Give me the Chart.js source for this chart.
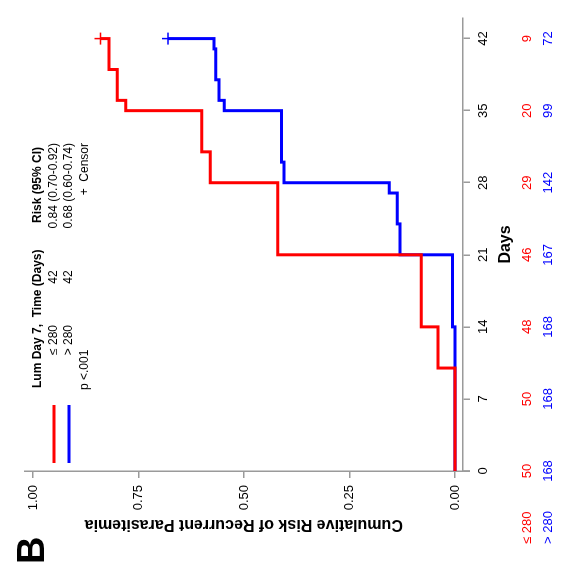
<!DOCTYPE html>
<html>
<head>
<meta charset="utf-8">
<script src="https://cdn.jsdelivr.net/npm/chart.js@4/dist/chart.umd.min.js"></script>
<style>
  html, body { margin: 0; padding: 0; background: #fff; overflow: hidden; }
  /* the plot is drawn landscape and turned on its side */
  #wrap {
    position: absolute; left: 0; top: 0;
    width: 571px; height: 565px;
    transform-origin: 0 0;
    transform: translateY(571px) rotate(-90deg);
  }
</style>
</head>
<body>
<div id="wrap"><canvas id="kmChart" width="571" height="565"></canvas></div>
<script>
// follow-up days and number at risk
const dayTicks = [0, 7, 14, 21, 28, 35, 42];
const atRiskLow = [50, 50, 48, 46, 29, 20, 9];
const atRiskHigh = [168, 168, 168, 167, 142, 99, 72];
const riskTicks = [0, 0.25, 0.5, 0.75, 1];

// cumulative risk curves (day of event, risk after event)
const lowDays = [0, 10, 14, 21, 28, 31, 35, 36, 39, 42];
const lowRisk = [0, 0.04, 0.08, 0.42, 0.58, 0.60, 0.78, 0.80, 0.82, 0.84];
const highDays = [0, 14, 21, 24, 27, 28, 30, 35, 36, 38, 41, 42];
const highRisk = [0, 0.006, 0.13, 0.137, 0.156, 0.405, 0.411, 0.547, 0.559, 0.567, 0.571, 0.68];

// censored at end of follow-up
const censorLow = [{ x: 42, y: 0.84 }];
const censorHigh = [{ x: 42, y: 0.68 }];

const groupLabels = ['≤ 280', '> 280'];
const groupRiskText = ['0.84 (0.70-0.92)', '0.68 (0.60-0.74)'];
const groupTimeText = ['42', '42'];
const pValueText = 'p <.001';

const RED = '#ff0000';
const BLUE = '#0000ff';
const AXIS = '#9a9a9a';
const FONT = '"Liberation Sans", Arial, Helvetica, sans-serif';

Chart.defaults.font.family = FONT;
Chart.defaults.color = '#000';

const toPoints = (xs, ys) => xs.map((x, i) => ({ x, y: ys[i] }));

// legend box, risk table and panel letter
const extrasPlugin = {
    id: 'extras',
    afterDraw(chart) {
        const ctx = chart.ctx;
        const xs = chart.scales.x;
        const area = chart.chartArea;
        ctx.save();

        // risk axis runs a little past the corner
        ctx.strokeStyle = AXIS;
        ctx.lineWidth = 1.5;
        ctx.beginPath();
        ctx.moveTo(area.left, area.bottom);
        ctx.lineTo(area.left, area.bottom + 7);
        ctx.stroke();

        // panel letter
        ctx.fillStyle = '#000';
        ctx.font = 'bold 38px ' + FONT;
        ctx.textAlign = 'left';
        ctx.textBaseline = 'alphabetic';
        ctx.fillText('B', 7, 44);

        // legend lines
        ctx.lineWidth = 3;
        [[RED, 54], [BLUE, 69]].forEach(([c, y]) => {
            ctx.strokeStyle = c;
            ctx.beginPath();
            ctx.moveTo(108, y);
            ctx.lineTo(166, y);
            ctx.stroke();
        });

        // legend header
        ctx.textBaseline = 'middle';
        ctx.font = 'bold 12px ' + FONT;
        ctx.textAlign = 'left';
        ctx.fillText('Lum Day 7,  Time (Days)', 183, 38);
        ctx.textAlign = 'right';
        ctx.fillText('Risk (95% CI)', 424, 38);

        // legend rows
        ctx.font = '12px ' + FONT;
        [54, 69].forEach((y, i) => {
            ctx.textAlign = 'right';
            ctx.fillText(groupLabels[i], 246, y);
            ctx.textAlign = 'center';
            ctx.fillText(groupTimeText[i], 294, y);
            ctx.textAlign = 'right';
            ctx.fillText(groupRiskText[i], 428, y);
        });
        ctx.textAlign = 'left';
        ctx.fillText(pValueText, 181, 85);
        ctx.textAlign = 'right';
        ctx.fillText('+  Censor', 428, 85);

        // number at risk
        ctx.font = '13px ' + FONT;
        [[RED, 527, atRiskLow], [BLUE, 548, atRiskHigh]].forEach(([c, y, vals], i) => {
            ctx.fillStyle = c;
            ctx.textAlign = 'left';
            ctx.fillText(groupLabels[i], 27, y);
            ctx.textAlign = 'center';
            vals.forEach((n, j) => ctx.fillText(String(n), xs.getPixelForValue(dayTicks[j]), y));
        });

        ctx.restore();
    }
};

new Chart(document.getElementById('kmChart'), {
    type: 'line',
    data: {
        datasets: [
            {
                label: groupLabels[0],
                data: toPoints(lowDays, lowRisk),
                borderColor: RED,
                borderWidth: 3,
                stepped: 'before',
                pointRadius: 0,
                fill: false
            },
            {
                label: groupLabels[1],
                data: toPoints(highDays, highRisk),
                borderColor: BLUE,
                borderWidth: 3,
                stepped: 'before',
                pointRadius: 0,
                fill: false
            },
            {
                label: 'censor low',
                data: censorLow,
                showLine: false,
                pointStyle: 'cross',
                pointRadius: 6,
                borderColor: RED,
                borderWidth: 1.5
            },
            {
                label: 'censor high',
                data: censorHigh,
                showLine: false,
                pointStyle: 'cross',
                pointRadius: 6,
                borderColor: BLUE,
                borderWidth: 1.5
            }
        ]
    },
    options: {
        responsive: false,
        animation: false,
        devicePixelRatio: 1,
        layout: { padding: { top: 24.5, right: 18, left: 0, bottom: 0 } },
        plugins: {
            legend: { display: false },
            tooltip: { enabled: false }
        },
        scales: {
            x: {
                type: 'linear',
                min: 0,
                max: 44,
                afterFit: s => { s.height = 102; },
                afterBuildTicks: s => { s.ticks = dayTicks.map(v => ({ value: v })); },
                grid: { drawOnChartArea: false, drawTicks: true, tickLength: 7, color: AXIS, lineWidth: 1.5 },
                border: { color: AXIS, width: 1.5 },
                ticks: { autoSkip: false, maxRotation: 0, padding: 6, font: { size: 13 }, color: '#000' },
                title: {
                    display: true,
                    text: 'Days',
                    font: { size: 16, weight: 'bold' },
                    color: '#000',
                    padding: { top: 0, bottom: 50 }
                }
            },
            y: {
                type: 'linear',
                min: -0.019,
                max: 1.02,
                afterFit: s => { s.width = 100; },
                afterBuildTicks: s => { s.ticks = riskTicks.map(v => ({ value: v })); },
                grid: { drawOnChartArea: false, drawTicks: true, tickLength: 7, color: AXIS, lineWidth: 1.5 },
                border: { color: AXIS, width: 1.5 },
                ticks: {
                    padding: 7,
                    font: { size: 13 },
                    color: '#000',
                    callback: v => Number(v).toFixed(2)
                },
                title: {
                    display: true,
                    text: 'Cumulative Risk of Recurrent Parasitemia',
                    font: { size: 16, weight: 'bold' },
                    color: '#000',
                    padding: { top: 37, bottom: 0 }
                }
            }
        }
    },
    plugins: [extrasPlugin]
});
</script>
</body>
</html>
